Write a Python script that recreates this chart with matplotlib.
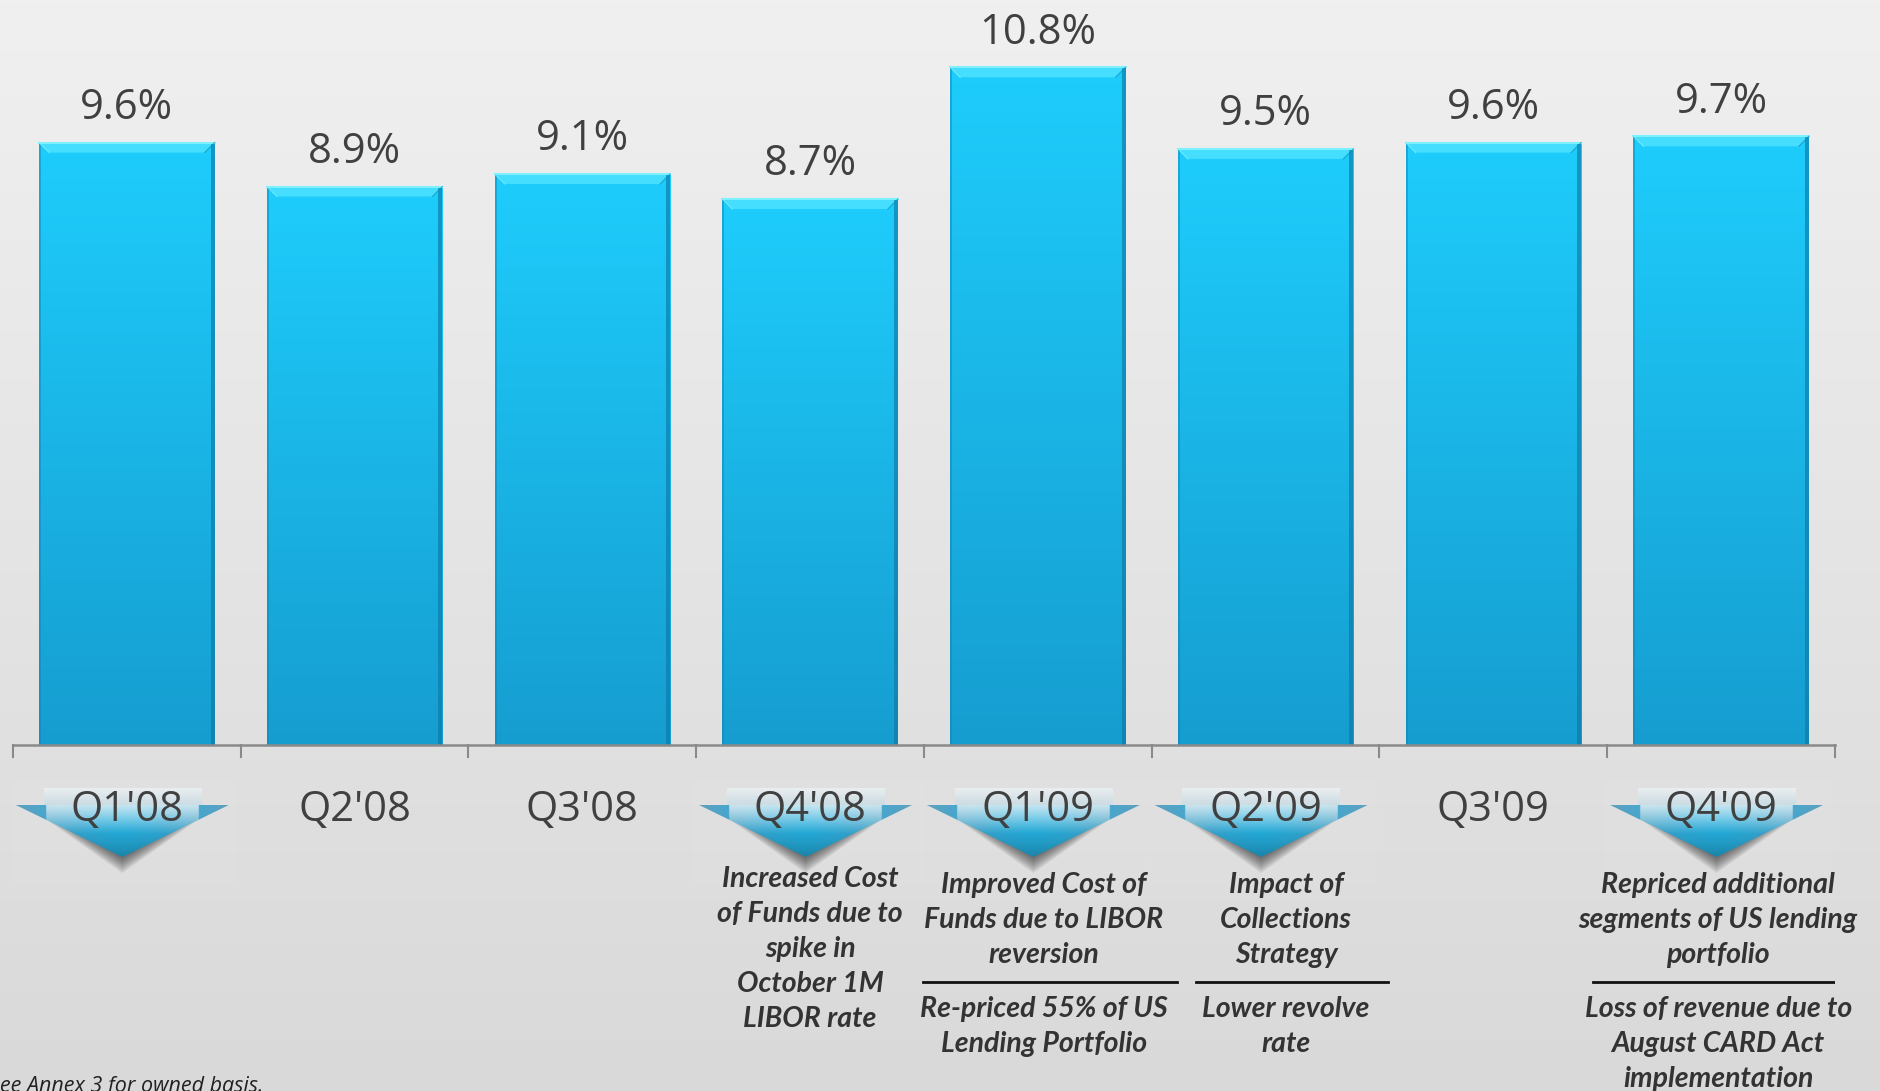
import numpy as np
import matplotlib.pyplot as plt
from matplotlib.patches import Polygon, Rectangle
from matplotlib.colors import to_rgb

quarters = ["Q1'08", "Q2'08", "Q3'08", "Q4'08", "Q1'09", "Q2'09", "Q3'09", "Q4'09"]
margin = [9.6, 8.9, 9.1, 8.7, 10.8, 9.5, 9.6, 9.7]

# quarters that get a down-arrow marker under the axis
flagged = ["Q1'08", "Q4'08", "Q1'09", "Q2'09", "Q4'09"]

drivers = {
    "Q4'08": ["Increased Cost", "of Funds due to", "spike in", "October 1M", "LIBOR rate"],
    "Q1'09": ["Improved Cost of", "Funds due to LIBOR", "reversion"],
    "Q2'09": ["Impact of", "Collections", "Strategy"],
    "Q4'09": ["Repriced additional", "segments of US lending", "portfolio"],
}
offsets = {
    "Q1'09": ["Re-priced 55% of US", "Lending Portfolio"],
    "Q2'09": ["Lower revolve", "rate"],
    "Q4'09": ["Loss of revenue due to", "August CARD Act", "implementation"],
}
footnote = "See Annex 3 for owned basis."

# layout (pixels / category units)
W, H = 1881, 1091
base_px = 745          # axis line, from top
px_per_pct = 62.75
left_px, span_px = 13, 1822
text_dx = {"Q4'08": 0.0, "Q1'09": 0.026, "Q2'09": 0.09, "Q4'09": -0.013}
rule_x = {"Q1'09": (-0.504, 0.61), "Q2'09": (-0.307, 0.539), "Q4'09": (-0.561, 0.566)}

plt.rcParams['font.family'] = ['Open Sans', 'DejaVu Sans']

fig = plt.figure(figsize=(W / 100, H / 100), dpi=100)

# background gradient
bg = fig.add_axes([0, 0, 1, 1])
top_c, bot_c = np.array(to_rgb('#f0f0f0')), np.array(to_rgb('#d9d9d9'))
t = np.linspace(0, 1, 256)[:, None, None]
bg.imshow(top_c * (1 - t) + bot_c * t, aspect='auto', extent=[0, 1, 0, 1])
bg.set_axis_off()

# bars
ax = fig.add_axes([left_px / W, (H - base_px) / H, span_px / W, base_px / H])
ax.set_axis_off()
ax.patch.set_alpha(0)
x = np.arange(len(quarters))
bw = 0.77
bars = ax.bar(x, margin, width=bw, color='none', edgecolor='none', zorder=2)

bar_top = np.array(to_rgb('#1ecdfc'))
bar_bot = np.array(to_rgb('#169dd0'))
g = np.linspace(0, 1, 256)[:, None, None]
bar_grad = bar_top * (1 - g) + bar_bot * g

bx = 10 / 228
by = 10 / px_per_pct
for b, v in zip(bars, margin):
    x0 = b.get_x()
    x1 = x0 + b.get_width()
    im = ax.imshow(bar_grad, extent=[x0, x1, 0, v], aspect='auto', zorder=2)
    im.set_clip_path(b)
    # bevel on top edge
    ax.add_patch(Polygon([(x0, v), (x1, v), (x1 - bx, v - by), (x0 + bx, v - by)],
                         closed=True, facecolor='#45defe', edgecolor='none', zorder=3))
    ax.plot([x0, x1], [v, v], color='#7ff0ff', lw=1.5, zorder=4)
    ax.plot([x0, x0 + bx], [v, v - by], color='#8af2ff', lw=0.8, alpha=0.7, zorder=4)
    ax.plot([x1, x1 - bx], [v, v - by], color='#0f8fbf', lw=0.8, alpha=0.7, zorder=4)
    # darker side edges
    ax.add_patch(Rectangle((x1 - 4 / 228, 0), 4 / 228, v, facecolor='#0d79a6',
                           alpha=0.65, edgecolor='none', zorder=3))
    ax.add_patch(Rectangle((x0, 0), 2 / 228, v, facecolor='#1286b4',
                           alpha=0.5, edgecolor='none', zorder=3))
    ax.annotate(f"{v:.1f}%", (b.get_x() + b.get_width() / 2, v), xytext=(0, 17),
                textcoords='offset points', ha='center', va='baseline',
                fontsize=30, color='#404040')

ax.set_xlim(-0.5, len(quarters) - 0.5)
ax.set_ylim(0, base_px / px_per_pct)

# area under the axis: labels, arrows and notes (y in pixels down from the axis)
lo = fig.add_axes([left_px / W, 0, span_px / W, (H - base_px) / H])
lo.set_axis_off()
lo.patch.set_alpha(0)
lo.set_xlim(-0.5, len(quarters) - 0.5)
lo.set_ylim(H - base_px, 0)

lo.plot([-0.5, len(quarters) - 0.5], [0, 0], color='#8a8a8a', lw=1.8, clip_on=False, zorder=5)
for tx in np.arange(-0.5, len(quarters)):
    lo.plot([tx, tx], [0, 12], color='#8a8a8a', lw=1.5, clip_on=False, zorder=5)


def tri_gradient(n=120):
    u = np.linspace(-1, 1, n)[None, :]
    v = np.linspace(0, 1, n)[:, None]
    steel = np.array(to_rgb('#5e9fbf'))
    cyan = np.array(to_rgb('#25b6e8'))
    light = np.array(to_rgb('#e2eef2'))
    s = np.clip(np.abs(u) ** 1.4, 0, 1)[..., None]
    c = steel * s + cyan * (1 - s)
    h = (np.clip(1 - v / 0.55, 0, 1) * (np.abs(u) < 0.72))[..., None] * 0.85
    c = c * (1 - h) + light * h
    c = c * (1 - 0.28 * (v ** 2))[..., None]
    return np.clip(c, 0, 1)


tri_img = tri_gradient()
sh = np.linspace(0, 1, 64)[:, None, None]
shaft_img = np.array(to_rgb('#eef3f5')) * (1 - sh) + np.array(to_rgb('#c4dbe4')) * sh

for q in flagged:
    i = quarters.index(q)
    cx = i - 0.02
    hw = 0.4675
    lo.add_patch(Rectangle((i - 0.52, 35), 1.01, 105, facecolor='white', alpha=0.05,
                           edgecolor='#eaeaea', lw=1, zorder=1))
    # soft shadow under the arrow
    for k in range(2, 18, 2):
        lo.add_patch(Polygon([(cx - hw * 0.8, 60 + k * 0.5), (cx + hw * 0.8, 60 + k * 0.5),
                              (cx, 112 + k)], closed=True, facecolor='black',
                             alpha=0.08, edgecolor='none', zorder=2))
    tri = Polygon([(cx - hw, 60), (cx + hw, 60), (cx, 112)], closed=True,
                  facecolor='none', edgecolor='none', zorder=3)
    lo.add_patch(tri)
    im = lo.imshow(tri_img, extent=[cx - hw, cx + hw, 112, 60], aspect='auto', zorder=3)
    im.set_clip_path(tri)
    lo.imshow(shaft_img, extent=[cx - 0.345, cx + 0.345, 60, 43], aspect='auto',
              alpha=0.75, zorder=3)

for i, q in enumerate(quarters):
    lo.text(i, 76, q, ha='center', va='baseline', fontsize=30, color='#404040', zorder=6)

note_font = dict(family=['Lato', 'DejaVu Sans'], fontsize=20.5, fontweight='bold',
                 fontstyle='italic', color='#333333', ha='center', va='baseline', zorder=6)
for q, lines in drivers.items():
    i = quarters.index(q) + text_dx[q]
    y0 = 142 if q == "Q4'08" else 148
    for k, line in enumerate(lines):
        lo.text(i, y0 + 35 * k, line, **note_font)

for q, lines in offsets.items():
    i = quarters.index(q)
    a, b = rule_x[q]
    lo.plot([i + a, i + b], [237, 237], color='#111111', lw=2, zorder=6)
    for k, line in enumerate(lines):
        lo.text(i + text_dx[q], 272 + 35 * k, line, **note_font)

lo.set_xlim(-0.5, len(quarters) - 0.5)
lo.set_ylim(H - base_px, 0)

fig.text(-11 / W, -1 / H, footnote, ha='left', va='baseline', fontsize=15.5,
         fontstyle='italic', color='#222222')

fig.savefig('out.png', dpi=100)
